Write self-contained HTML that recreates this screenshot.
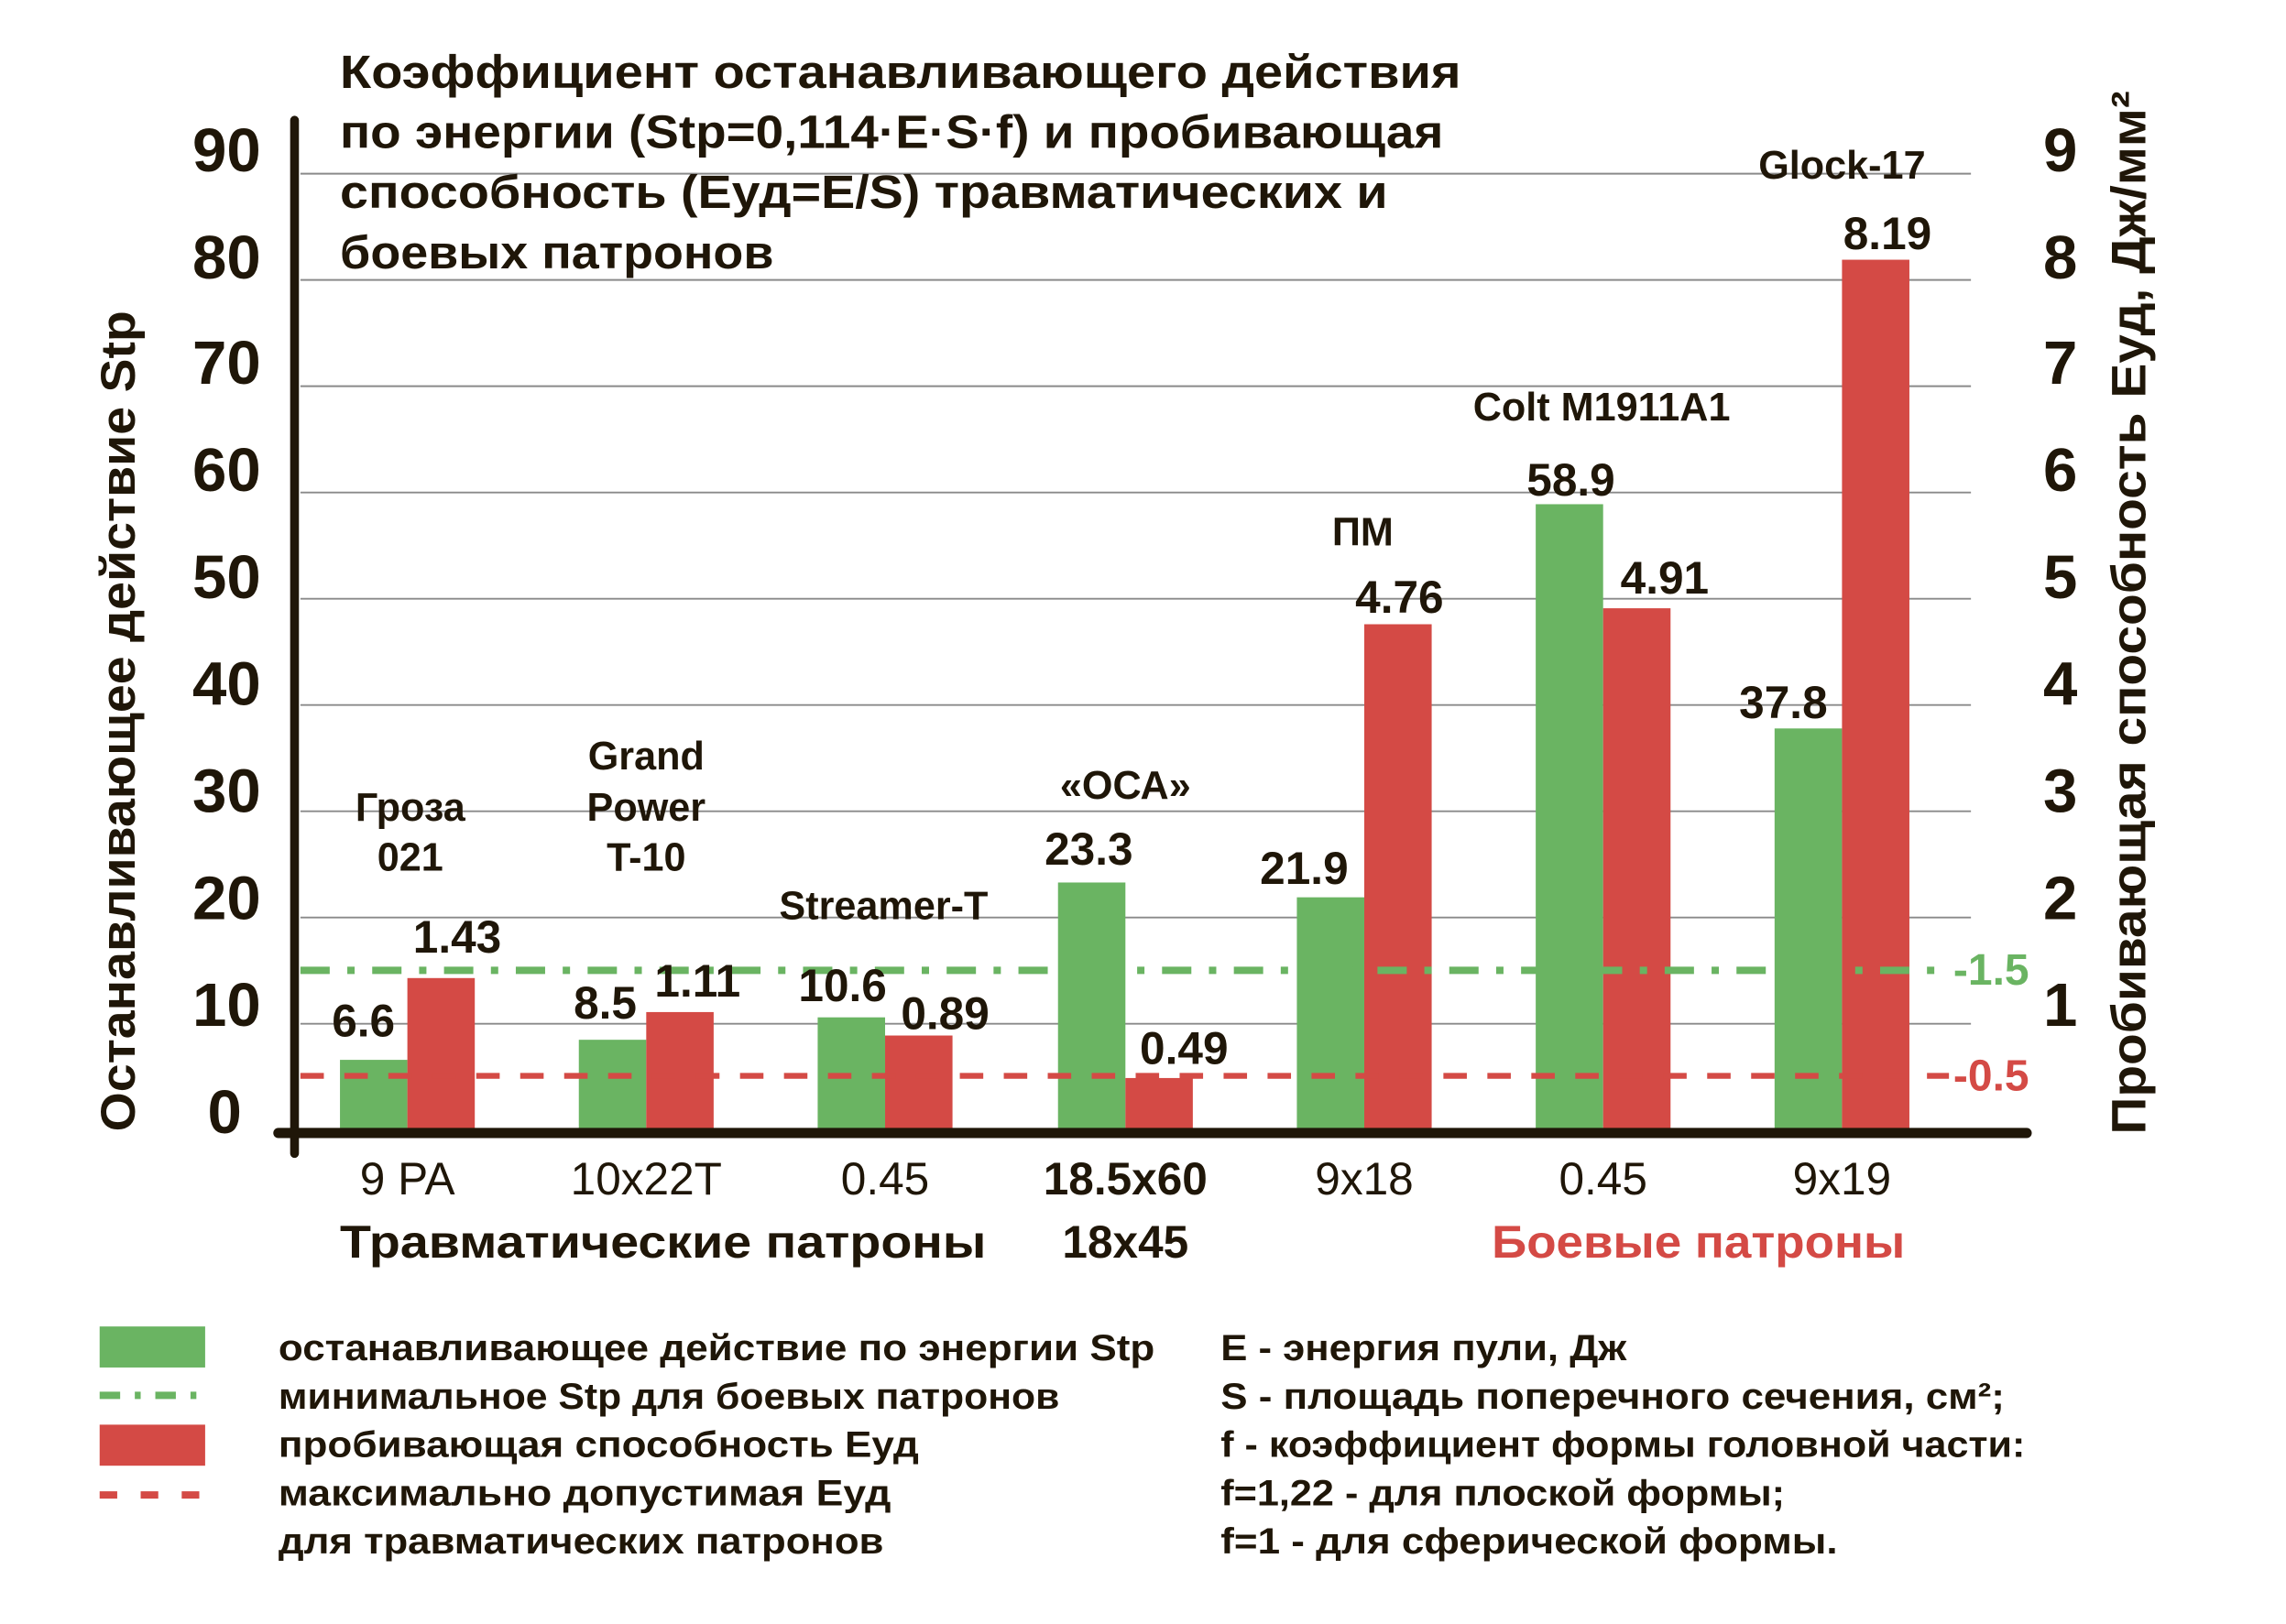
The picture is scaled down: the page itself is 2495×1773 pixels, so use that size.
<!DOCTYPE html>
<html><head><meta charset="utf-8"><style>
html,body{margin:0;padding:0;background:#fff}
svg{display:block}
text{font-family:"Liberation Sans","DejaVu Sans",sans-serif;fill:#1f1608}
.b{font-weight:bold}
</style></head><body>
<svg width="2495" height="1773" viewBox="0 0 1560 1108" preserveAspectRatio="none" xmlns="http://www.w3.org/2000/svg">
<rect width="1560" height="1108" fill="#fff"/>
<g stroke="#8a8a8a" stroke-width="1.2">
<line x1="205" x2="1345" y1="118.5" y2="118.5"/>
<line x1="205" x2="1345" y1="191" y2="191"/>
<line x1="205" x2="1345" y1="263.5" y2="263.5"/>
<line x1="205" x2="1345" y1="336" y2="336"/>
<line x1="205" x2="1345" y1="408.5" y2="408.5"/>
<line x1="205" x2="1345" y1="481" y2="481"/>
<line x1="205" x2="1345" y1="553.5" y2="553.5"/>
<line x1="205" x2="1345" y1="626" y2="626"/>
<line x1="205" x2="1345" y1="698.5" y2="698.5"/>
</g>
<g fill="#6ab462">
<rect x="232" y="723.1" width="46" height="47.9"/>
<rect x="395" y="709.4" width="46" height="61.6"/>
<rect x="558" y="694.1" width="46" height="76.9"/>
<rect x="722" y="602.1" width="46" height="168.9"/>
<rect x="885" y="612.2" width="46" height="158.8"/>
<rect x="1048" y="344" width="46" height="427"/>
<rect x="1211" y="497" width="46" height="274"/>
</g>
<g fill="#d44a45">
<rect x="278" y="667.3" width="46" height="103.7"/>
<rect x="441" y="690.5" width="46" height="80.5"/>
<rect x="604" y="706.5" width="46" height="64.5"/>
<rect x="768" y="735.5" width="46" height="35.5"/>
<rect x="931" y="425.9" width="46" height="345.1"/>
<rect x="1094" y="415" width="46" height="356"/>
<rect x="1257" y="177.2" width="46" height="593.8"/>
</g>
<line x1="205" x2="1330" y1="662" y2="662" stroke="#6ab462" stroke-width="5" stroke-dasharray="20,12,5,12"/>
<line x1="205" x2="1330" y1="734" y2="734" stroke="#d44a45" stroke-width="4" stroke-dasharray="16,14"/>
<text x="1333" y="664" class="b" font-size="30" style="fill:#6ab462" dominant-baseline="middle">-1.5</text>
<text x="1333" y="736" class="b" font-size="30" style="fill:#d44a45" dominant-baseline="middle">-0.5</text>
<line x1="201" y1="82" x2="201" y2="787" stroke="#1f1608" stroke-width="6" stroke-linecap="round"/>
<line x1="190" y1="773" x2="1383" y2="773" stroke="#1f1608" stroke-width="7" stroke-linecap="round"/>
<g class="b" font-size="42" text-anchor="end">
<text x="178" y="117" class="b">90</text>
<text x="178" y="190" class="b">80</text>
<text x="178" y="262" class="b">70</text>
<text x="178" y="335" class="b">60</text>
<text x="178" y="408" class="b">50</text>
<text x="178" y="481" class="b">40</text>
<text x="178" y="554" class="b">30</text>
<text x="178" y="627" class="b">20</text>
<text x="178" y="700" class="b">10</text>
<text x="165" y="773" class="b">0</text>
</g>
<g class="b" font-size="42" text-anchor="middle">
<text x="1406" y="117" class="b">9</text>
<text x="1406" y="190" class="b">8</text>
<text x="1406" y="262" class="b">7</text>
<text x="1406" y="335" class="b">6</text>
<text x="1406" y="408" class="b">5</text>
<text x="1406" y="481" class="b">4</text>
<text x="1406" y="554" class="b">3</text>
<text x="1406" y="627" class="b">2</text>
<text x="1406" y="700" class="b">1</text>
</g>
<text transform="translate(92,492) rotate(-90)" text-anchor="middle" class="b" font-size="33" textLength="560" lengthAdjust="spacingAndGlyphs">Останавливающее действие Stp</text>
<text transform="translate(1464,418) rotate(-90)" text-anchor="middle" class="b" font-size="33" textLength="712" lengthAdjust="spacingAndGlyphs">Пробивающая способность Еуд, Дж/мм²</text>
<g class="b" font-size="32">
<text x="232" y="60" class="b" textLength="765" lengthAdjust="spacingAndGlyphs">Коэффициент  останавливающего действия</text>
<text x="232" y="101" class="b" textLength="753" lengthAdjust="spacingAndGlyphs">по энергии (Stp=0,114·E·S·f)  и пробивающая</text>
<text x="232" y="142" class="b" textLength="715" lengthAdjust="spacingAndGlyphs">способность (Еуд=E/S) травматических и</text>
<text x="232" y="183" class="b" textLength="296" lengthAdjust="spacingAndGlyphs">боевых патронов</text>
</g>
<g font-size="27" text-anchor="middle">
<text x="280" y="560" class="b">Гроза</text>
<text x="280" y="594" class="b">021</text>
<text x="441" y="525" class="b">Grand</text>
<text x="441" y="560" class="b">Power</text>
<text x="441" y="594" class="b">T-10</text>
<text x="603" y="627" class="b">Streamer-T</text>
<text x="768" y="545" class="b">«ОСА»</text>
<text x="930" y="372" class="b">ПМ</text>
<text x="1093" y="287" class="b">Colt M1911A1</text>
<text x="1257" y="122" class="b">Glock-17</text>
</g>
<g font-size="31" text-anchor="middle" class="b">
<text x="248" y="707" class="b">6.6</text>
<text x="312" y="650" class="b">1.43</text>
<text x="413" y="695" class="b">8.5</text>
<text x="476" y="680" class="b">1.11</text>
<text x="575" y="683" class="b">10.6</text>
<text x="645" y="702" class="b">0.89</text>
<text x="743" y="590" class="b">23.3</text>
<text x="808" y="726" class="b">0.49</text>
<text x="890" y="603" class="b">21.9</text>
<text x="955" y="418" class="b">4.76</text>
<text x="1072" y="338" class="b">58.9</text>
<text x="1136" y="405" class="b">4.91</text>
<text x="1217" y="490" class="b">37.8</text>
<text x="1288" y="170" class="b">8.19</text>
</g>
<g font-size="31" text-anchor="middle">
<text x="278" y="815">9 PA</text>
<text x="441" y="815">10x22T</text>
<text x="604" y="815">0.45</text>
<text x="768" y="815" class="b">18.5x60</text>
<text x="931" y="815">9x18</text>
<text x="1094" y="815">0.45</text>
<text x="1257" y="815">9x19</text>
</g>
<text x="232" y="858" class="b" font-size="31" textLength="441" lengthAdjust="spacingAndGlyphs">Травматические патроны</text>
<text x="768" y="858" class="b" font-size="31" text-anchor="middle">18x45</text>
<text x="1018" y="858" class="b" font-size="31" style="fill:#d44a45" textLength="282" lengthAdjust="spacingAndGlyphs">Боевые патроны</text>
<rect x="68" y="905" width="72" height="28" fill="#6ab462"/>
<line x1="68" x2="140" y1="952" y2="952" stroke="#6ab462" stroke-width="5" stroke-dasharray="14,10,4,10"/>
<rect x="68" y="972" width="72" height="28" fill="#d44a45"/>
<line x1="68" x2="140" y1="1020" y2="1020" stroke="#d44a45" stroke-width="5" stroke-dasharray="12,16"/>
<g font-size="25" class="b">
<text x="190" y="928" class="b" textLength="598" lengthAdjust="spacingAndGlyphs">останавливающее действие по энергии Stp</text>
<text x="190" y="961" class="b" textLength="533" lengthAdjust="spacingAndGlyphs">минимальное Stp для боевых патронов</text>
<text x="190" y="994" class="b" textLength="437" lengthAdjust="spacingAndGlyphs">пробивающая способность Еуд</text>
<text x="190" y="1027" class="b" textLength="418" lengthAdjust="spacingAndGlyphs">максимально допустимая Еуд</text>
<text x="190" y="1060" class="b" textLength="413" lengthAdjust="spacingAndGlyphs">для травматических патронов</text>
<text x="833" y="928" class="b" textLength="277" lengthAdjust="spacingAndGlyphs">E - энергия пули, Дж</text>
<text x="833" y="961" class="b" textLength="535" lengthAdjust="spacingAndGlyphs">S - площадь поперечного сечения, см²;</text>
<text x="833" y="994" class="b" textLength="549" lengthAdjust="spacingAndGlyphs">f - коэффициент формы головной части:</text>
<text x="833" y="1027" class="b" textLength="385" lengthAdjust="spacingAndGlyphs">f=1,22 - для плоской формы;</text>
<text x="833" y="1060" class="b" textLength="421" lengthAdjust="spacingAndGlyphs">f=1 - для сферической формы.</text>
</g>
</svg>
</body></html>
